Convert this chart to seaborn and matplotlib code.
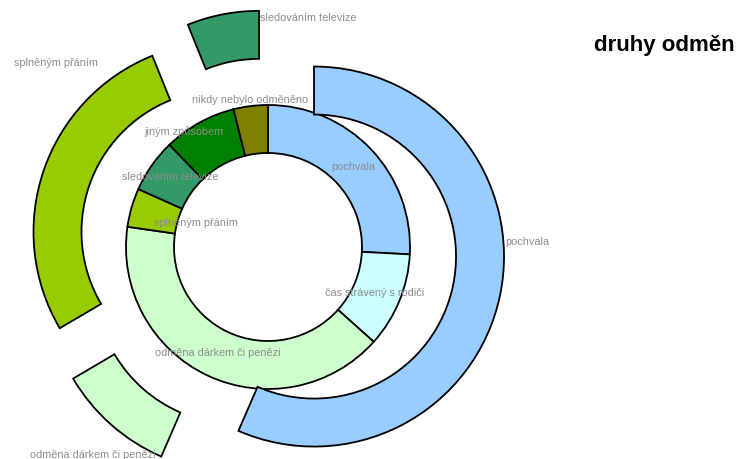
import matplotlib
matplotlib.use("Agg")
import matplotlib.pyplot as plt
import seaborn as sns

# ---- data ----
categories = ["pochvala", "čas strávený s rodiči", "odměna dárkem či penězi",
              "splněným přáním", "sledováním televize", "jiným způsobem",
              "nikdy nebylo odměněno"]
inner_values = [25.8, 10.8, 40.6, 4.4, 6.1, 8.3, 3.9]
outer_values = [56.4, 0.0, 10.0, 27.3, 6.1, 0.0, 0.0]
title_text = "druhy odměn"

# ---- style ----
sns.set_theme(style="white")
plt.rcParams["font.family"] = ["Liberation Sans", "DejaVu Sans"]
palette = sns.color_palette(["#99CCFF", "#CCFFFF", "#CCFFCC", "#99CC00",
                             "#339966", "#008000", "#808000"])

W, H = 741, 460
fig = plt.figure(figsize=(W / 100, H / 100), dpi=100)
ax = fig.add_axes([0, 0, 1, 1])

cx, cy = 268, H - 248
ring = 48
inner_r = 142
outer_r = 190
explode_dist = 47
edge = dict(edgecolor="black", linewidth=1.3)

ax.pie(inner_values, colors=palette, startangle=90, counterclock=False,
       radius=inner_r, center=(cx, cy), frame=True,
       wedgeprops=dict(width=ring, **edge))

out_idx = [i for i, v in enumerate(outer_values) if v > 0]
ax.pie([outer_values[i] for i in out_idx],
       colors=[palette[i] for i in out_idx],
       explode=[explode_dist] * len(out_idx),
       startangle=90, counterclock=False, radius=outer_r, center=(cx, cy),
       frame=True, wedgeprops=dict(width=ring, **edge))

ax.set_xlim(0, W)
ax.set_ylim(0, H)
ax.set_aspect("equal")
ax.axis("off")

# ---- labels (layout positions in image pixels) ----
inner_label_pos = [(353, 167), (375, 293), (218, 353), (196, 223),
                   (170, 177), (184, 132), (250, 100)]
outer_label_pos = {0: (527, 242), 2: (93, 455), 3: (56, 63), 4: (308, 18)}

lab_style = dict(fontsize=7.8, color="#8c8c8c", ha="center", va="center")
for name, (x, y) in zip(categories, inner_label_pos):
    ax.text(x, H - y, name, **lab_style)
for i, (x, y) in outer_label_pos.items():
    ax.text(x, H - y, categories[i], **lab_style)

ax.text(594, H - 45, title_text, fontsize=16, fontweight="bold",
        color="black", ha="left", va="center")

fig.savefig("out.png", dpi=100)
